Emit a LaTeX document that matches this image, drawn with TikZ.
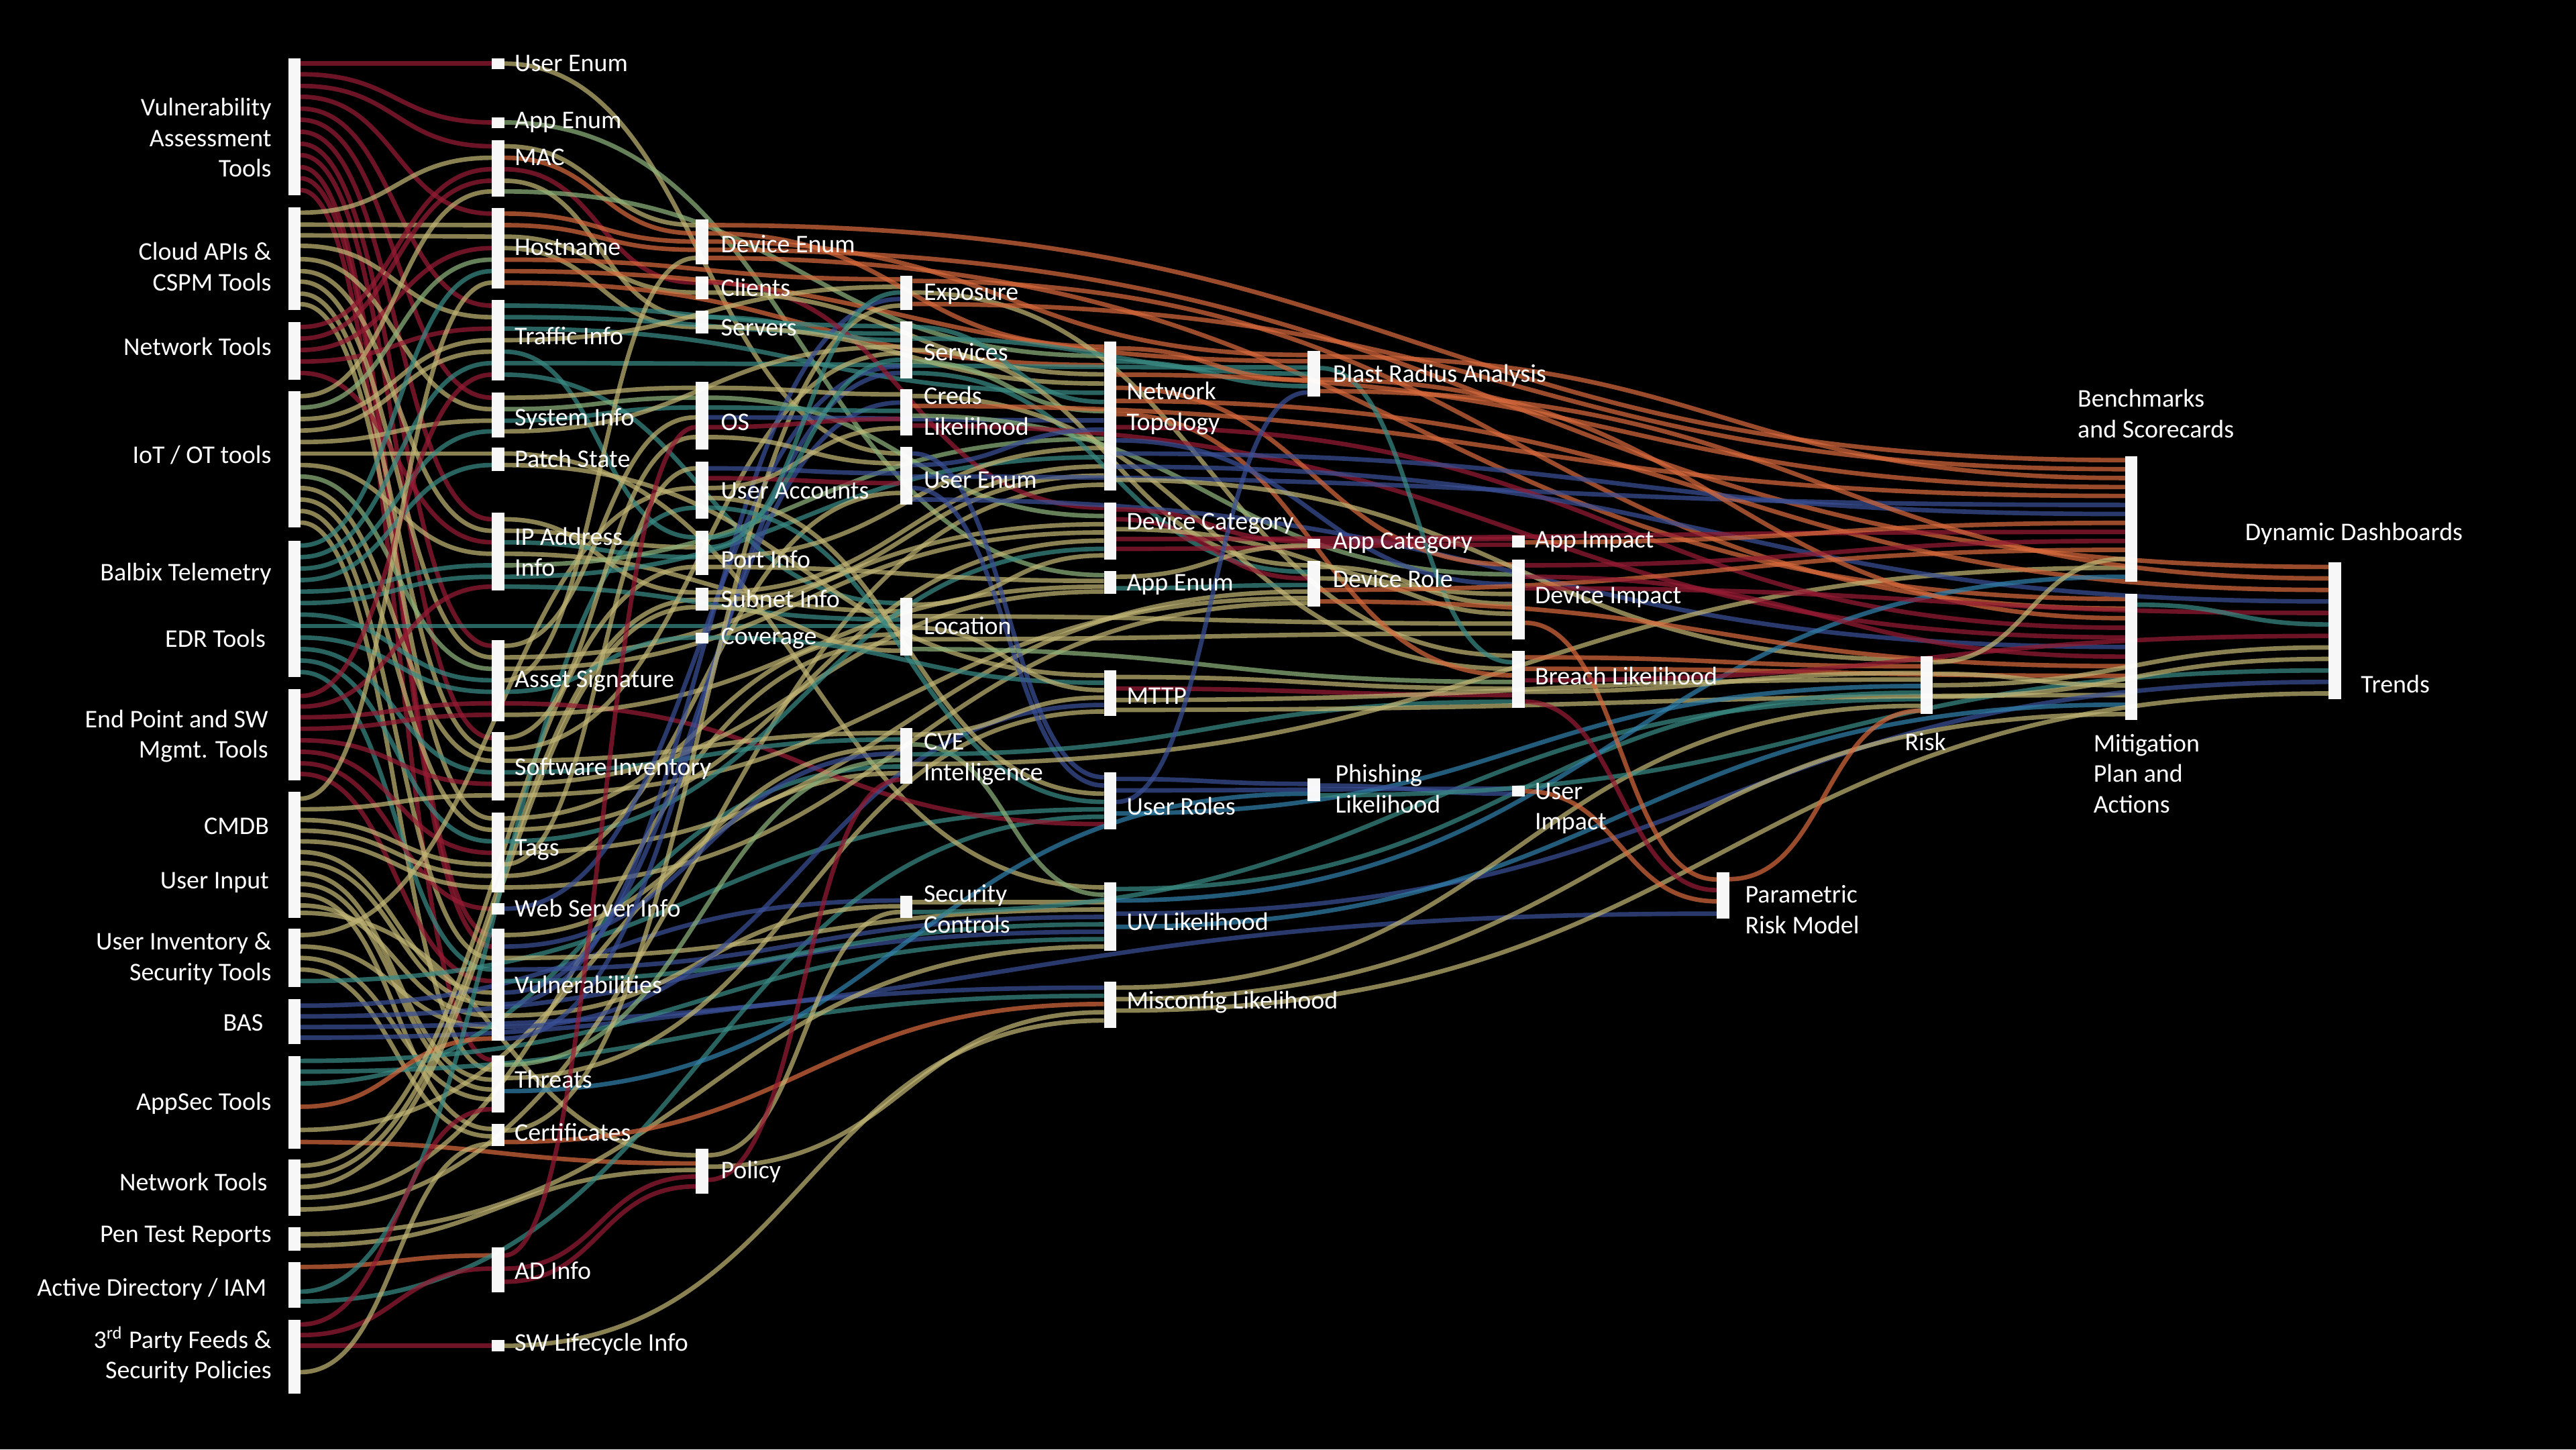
\documentclass[tikz,border=0pt]{standalone}
\usepackage{fontspec}
\setmainfont{Carlito}
\usetikzlibrary{calc}
\pgfdeclarelayer{lnks}
\pgfsetlayers{lnks,main}
\definecolor{cR}{RGB}{150,28,52}
\definecolor{cO}{RGB}{214,105,60}
\definecolor{cK}{RGB}{192,180,116}
\definecolor{cS}{RGB}{140,178,122}
\definecolor{cT}{RGB}{58,138,132}
\definecolor{cB}{RGB}{58,80,150}
\definecolor{cL}{RGB}{48,128,170}
\tikzset{
 barn/.style={fill=white,fill opacity=0.97,draw=none,inner sep=0pt,outer sep=0pt,minimum width=0.1837cm},
 lnk/.style={line width=1.9pt,opacity=0.72},
 lbl/.style={text=white,inner sep=0pt,font=\fontsize{10.8}{13}\selectfont},
 lblL/.style={lbl,anchor=west,align=left},
 lblR/.style={lbl,anchor=east,align=right},
}
\newcommand\bn[4]{\node[barn,minimum height={(#4-#3)*0.02449cm}] (#1) at ({#2+3.75},{(#3+#4)/2}) {};}
\newcommand\lk[5]{\draw[lnk,draw=#1] let \p1=(#2.east|-0,#3), \p2=(#4.west|-0,#5) in (\p1) .. controls ({(\x1+\x2)/2},\y1) and ({(\x1+\x2)/2},\y2) .. (\p2);}
\begin{document}
\begin{tikzpicture}[x=0.02449cm,y=-0.02449cm]
\useasboundingbox (0,0) rectangle (1568,882);
% ---------- bars
\bn{vat}{175.5}{35.5}{119}
\bn{cld}{175.5}{126}{188.5}
\bn{nt1}{175.5}{196}{231}
\bn{iot}{175.5}{238}{321}
\bn{bal}{175.5}{329}{412}
\bn{epm}{175.5}{419.5}{475}
\bn{cmdb}{175.5}{482}{558.5}
\bn{uinv}{175.5}{565}{600.5}
\bn{bas}{175.5}{608}{635.5}
\bn{aps}{175.5}{642.5}{699}
\bn{nt2}{175.5}{705.5}{740}
\bn{pen}{175.5}{747}{761}
\bn{adi}{175.5}{768}{796}
\bn{tpf}{175.5}{803}{848}
\bn{uen}{299.5}{35.5}{42}
\bn{aen}{299.5}{71.3}{77.8}
\bn{mac}{299.5}{85.2}{119.8}
\bn{hst}{299.5}{126.6}{175.6}
\bn{trf}{299.5}{182.7}{231.5}
\bn{sys}{299.5}{238.7}{266.2}
\bn{pst}{299.5}{272.5}{286.5}
\bn{ipa}{299.5}{312}{359.5}
\bn{asg}{299.5}{389.6}{438.8}
\bn{swi}{299.5}{445.5}{487}
\bn{tag}{299.5}{494.5}{543}
\bn{web}{299.5}{549.6}{556.6}
\bn{vul}{299.5}{565}{633.5}
\bn{thr}{299.5}{642.3}{677}
\bn{crt}{299.5}{684}{697.5}
\bn{adn}{299.5}{759}{786.5}
\bn{swl}{299.5}{815.5}{822.4}
\bn{den}{423.5}{133.5}{161}
\bn{cli}{423.5}{168.2}{182}
\bn{srv}{423.5}{189}{203}
\bn{os}{423.5}{232.4}{273.6}
\bn{uac}{423.5}{280.8}{315.6}
\bn{prt}{423.5}{323}{350}
\bn{sub}{423.5}{357.7}{371.5}
\bn{cov}{423.5}{385}{391.6}
\bn{pol}{423.5}{699}{726.5}
\bn{exp}{548}{167.7}{188.5}
\bn{svc}{548}{195.4}{230.2}
\bn{crd}{548}{237}{265.2}
\bn{ue4}{548}{272}{306.9}
\bn{loc}{548}{364}{399}
\bn{cve}{548}{443}{477}
\bn{sec}{548}{545}{558.5}
\bn{ntp}{672}{208}{298.5}
\bn{dca}{672}{306}{340.6}
\bn{ae5}{672}{347.5}{361.4}
\bn{mtp}{672}{408}{435.5}
\bn{uro}{672}{470}{504.7}
\bn{uvl}{672}{537}{578.6}
\bn{mis}{672}{597.4}{625.6}
\bn{bra}{796}{213.6}{241.4}
\bn{aca}{796}{327.7}{333.6}
\bn{dro}{796}{341.2}{369}
\bn{phi}{796}{473.5}{487.5}
\bn{aim}{920.5}{326}{333.3}
\bn{dim}{920.5}{340.4}{389}
\bn{brl}{920.5}{396.2}{430.6}
\bn{uim}{920.5}{478}{484.7}
\bn{prm}{1045}{531}{559.2}
\bn{rsk}{1169}{399.2}{434.3}
\bn{bmk}{1293.5}{277.5}{354.2}
\bn{mit}{1293.5}{361.2}{438}
\bn{dsh}{1417.5}{342}{425.6}
\begin{pgfonlayer}{lnks}
\fill[black] (0,0) rectangle (1568,882);
% ---------- links from sources
\lk{cR}{vat}{38.7}{uen}{38.7}
\lk{cR}{vat}{45.2}{aen}{74.5}
\lk{cR}{vat}{52.3}{mac}{89}
\lk{cR}{vat}{58.9}{hst}{130}
\lk{cR}{vat}{66.1}{trf}{186}
\lk{cR}{vat}{72.9}{sys}{242}
\lk{cR}{vat}{80.2}{ipa}{316}
\lk{cR}{vat}{87.5}{asg}{393}
\lk{cR}{vat}{94.4}{swi}{449}
\lk{cR}{vat}{101.7}{vul}{569}
\lk{cR}{vat}{108.5}{vul}{576}
\lk{cR}{vat}{115.7}{thr}{645}
\lk{cK}{cld}{129.4}{mac}{96}
\lk{cK}{cld}{136.7}{hst}{137}
\lk{cK}{cld}{143.2}{hst}{144}
\lk{cK}{cld}{149.6}{trf}{193}
\lk{cK}{cld}{157.7}{sys}{249}
\lk{cK}{cld}{165}{ipa}{323}
\lk{cK}{cld}{171.4}{asg}{400}
\lk{cK}{cld}{178.7}{swi}{456}
\lk{cK}{cld}{185.1}{tag}{498}
\lk{cR}{nt1}{199}{mac}{103}
\lk{cR}{nt1}{206}{mac}{110}
\lk{cR}{nt1}{213}{hst}{151}
\lk{cR}{nt1}{220}{trf}{200}
\lk{cR}{nt1}{227}{ipa}{330}
\lk{cK}{iot}{241}{mac}{116.5}
\lk{cS}{iot}{248}{hst}{158}
\lk{cK}{iot}{255}{trf}{207}
\lk{cK}{iot}{262}{trf}{214}
\lk{cK}{iot}{269}{sys}{256}
\lk{cK}{iot}{276}{pst}{276}
\lk{cK}{iot}{283}{ipa}{337}
\lk{cS}{iot}{290}{asg}{407}
\lk{cK}{iot}{297}{swi}{463}
\lk{cK}{iot}{304}{tag}{505}
\lk{cK}{iot}{311}{vul}{583}
\lk{cK}{iot}{318}{thr}{651}
\lk{cT}{bal}{332}{hst}{165}
\lk{cT}{bal}{339}{trf}{221}
\lk{cT}{bal}{346}{sys}{262.5}
\lk{cT}{bal}{353}{pst}{283}
\lk{cT}{bal}{360}{ipa}{344}
\lk{cT}{bal}{367}{ipa}{351}
\lk{cT}{bal}{374}{asg}{414}
\lk{cT}{bal}{381}{loc}{381}
\lk{cT}{bal}{388}{asg}{421}
\lk{cT}{bal}{395}{swi}{470}
\lk{cT}{bal}{402}{tag}{512}
\lk{cT}{bal}{409}{vul}{590}
\lk{cR}{epm}{423.5}{trf}{228}
\lk{cR}{epm}{430}{ipa}{357}
\lk{cR}{epm}{436.5}{asg}{428}
\lk{cR}{epm}{443.5}{asg}{435}
\lk{cR}{epm}{450.5}{swi}{477}
\lk{cR}{epm}{457.5}{tag}{519}
\lk{cR}{epm}{464.5}{web}{553}
\lk{cR}{epm}{471}{vul}{597}
\lk{cK}{cmdb}{486}{hst}{172}
\lk{cK}{cmdb}{492.5}{swi}{484}
\lk{cK}{cmdb}{499}{tag}{526}
\lk{cK}{cmdb}{505.5}{tag}{533}
\lk{cK}{cmdb}{512}{tag}{540}
\lk{cK}{cmdb}{518.5}{vul}{604}
\lk{cK}{cmdb}{525}{vul}{611}
\lk{cK}{cmdb}{531.5}{thr}{657}
\lk{cK}{cmdb}{538}{thr}{663}
\lk{cK}{cmdb}{544.5}{crt}{687}
\lk{cK}{cmdb}{551}{vul}{618}
\lk{cK}{cmdb}{555.5}{pol}{703}
\lk{cK}{uinv}{569}{uac}{297}
\lk{cK}{uinv}{576}{vul}{625}
\lk{cK}{uinv}{583}{thr}{669}
\lk{cK}{uinv}{590}{crt}{691.5}
\lk{cT}{uinv}{597}{uro}{492.5}
\lk{cB}{bas}{612}{sec}{548}
\lk{cB}{bas}{618.5}{uvl}{567}
\lk{cB}{bas}{625}{prm}{556}
\lk{cB}{bas}{631.5}{mis}{601}
\lk{cT}{aps}{645.6}{uvl}{571.5}
\lk{cT}{aps}{652.1}{mis}{606}
\lk{cT}{aps}{659.3}{cve}{466.5}
\lk{cO}{aps}{673.5}{vul}{632}
\lk{cK}{aps}{687.6}{cve}{470.5}
\lk{cO}{aps}{695}{pol}{708}
\lk{cK}{nt2}{709.3}{prt}{345}
\lk{cK}{nt2}{715.8}{sub}{365}
\lk{cK}{nt2}{722.3}{sub}{369.5}
\lk{cK}{nt2}{728.8}{loc}{391}
\lk{cK}{nt2}{736}{ntp}{295}
\lk{cK}{pen}{751}{uvl}{576}
\lk{cK}{pen}{758}{pol}{712}
\lk{cO}{adi}{771}{adn}{764}
\lk{cT}{adi}{786}{uac}{309}
\lk{cT}{adi}{792}{uro}{497}
\lk{cR}{tpf}{806}{thr}{675}
\lk{cR}{tpf}{812.5}{adn}{772}
\lk{cR}{tpf}{819}{swl}{819}
\lk{cK}{tpf}{835}{crt}{696}
% ---------- column 2
\lk{cK}{uen}{38.7}{ue4}{276}
\lk{cS}{aen}{74.5}{ae5}{350}
\lk{cK}{mac}{89}{den}{137}
\lk{cO}{mac}{96}{den}{142}
\lk{cR}{mac}{103}{cli}{172}
\lk{cK}{mac}{110}{srv}{193}
\lk{cS}{mac}{116.5}{ntp}{216.6}
\lk{cO}{hst}{130}{den}{147}
\lk{cO}{hst}{137}{den}{152}
\lk{cK}{hst}{144}{cli}{178}
\lk{cK}{hst}{151}{srv}{199}
\lk{cO}{hst}{158}{exp}{170}
\lk{cO}{hst}{165}{bra}{219.8}
\lk{cO}{hst}{172}{ntp}{222.2}
\lk{cT}{trf}{186}{svc}{198.5}
\lk{cT}{trf}{193}{svc}{203}
\lk{cT}{trf}{200}{ntp}{239}
\lk{cK}{trf}{207}{exp}{174.5}
\lk{cT}{trf}{214}{prt}{327}
\lk{cT}{trf}{221}{bra}{223.6}
\lk{cT}{trf}{228}{loc}{367}
\lk{cK}{sys}{242}{os}{236}
\lk{cS}{sys}{249}{os}{242}
\lk{cT}{sys}{256}{os}{248}
\lk{cK}{sys}{262.5}{svc}{211}
\lk{cK}{pst}{276}{uvl}{540}
\lk{cK}{pst}{283}{mtp}{411}
\lk{cK}{ipa}{316}{sub}{360.5}
\lk{cK}{ipa}{323}{prt}{333}
\lk{cT}{ipa}{330}{prt}{339}
\lk{cK}{ipa}{337}{loc}{372}
\lk{cS}{ipa}{344}{ntp}{267}
\lk{cT}{ipa}{351}{ntp}{278.2}
\lk{cT}{ipa}{357}{loc}{377}
\lk{cK}{asg}{393}{os}{254}
\lk{cK}{asg}{400}{dca}{319}
\lk{cK}{asg}{407}{dca}{324}
\lk{cK}{asg}{414}{den}{157}
\lk{cT}{asg}{421}{cov}{388}
\lk{cR}{asg}{428}{uro}{501.5}
\lk{cK}{asg}{435}{ae5}{357}
\lk{cK}{swi}{449}{os}{266}
\lk{cK}{swi}{456}{svc}{215}
\lk{cK}{swi}{463}{cve}{446}
\lk{cT}{swi}{470}{cve}{450}
\lk{cK}{swi}{477}{ae5}{360}
\lk{cK}{swi}{484}{dro}{364}
\lk{cK}{tag}{498}{loc}{386}
\lk{cK}{tag}{505}{dca}{329}
\lk{cT}{tag}{512}{dca}{334}
\lk{cK}{tag}{519}{dro}{360}
\lk{cK}{tag}{526}{uac}{285}
\lk{cK}{tag}{533}{ue4}{300}
\lk{cK}{tag}{540}{dro}{367}
\lk{cB}{web}{553}{svc}{223}
\lk{cK}{vul}{569}{cve}{454.5}
\lk{cB}{vul}{576}{cve}{458.5}
\lk{cK}{vul}{583}{uvl}{553.5}
\lk{cB}{vul}{590}{uvl}{558}
\lk{cT}{vul}{597}{uvl}{562.5}
\lk{cB}{vul}{604}{crd}{245}
\lk{cB}{vul}{611}{exp}{182}
\lk{cK}{vul}{618}{sec}{551.5}
\lk{cB}{vul}{625}{mtp}{429}
\lk{cB}{vul}{632}{svc}{227}
\lk{cS}{thr}{648}{cve}{462.5}
\lk{cK}{thr}{656}{mtp}{433}
\lk{cL}{thr}{664}{phi}{483}
\lk{cK}{crt}{688}{exp}{186}
\lk{cO}{crt}{695}{mis}{611}
\lk{cR}{adn}{764}{os}{260}
\lk{cR}{adn}{772}{pol}{716}
\lk{cR}{adn}{780}{pol}{722}
\lk{cK}{swl}{819}{mis}{621}
% ---------- column 3
\lk{cO}{den}{137}{bmk}{280}
\lk{cO}{den}{142}{ntp}{211}
\lk{cO}{den}{147}{bra}{216}
\lk{cO}{den}{152}{dsh}{345}
\lk{cO}{den}{157}{mit}{364.5}
\lk{cR}{cli}{172}{dca}{309}
\lk{cK}{cli}{178}{ntp}{227.8}
\lk{cT}{srv}{193}{svc}{207}
\lk{cK}{srv}{199}{ntp}{233.4}
\lk{cK}{os}{236}{crd}{240}
\lk{cS}{os}{242}{dca}{314}
\lk{cT}{os}{248}{crd}{250}
\lk{cB}{os}{254}{ntp}{255.8}
\lk{cR}{os}{260}{crd}{255}
\lk{cK}{os}{266}{ue4}{282}
\lk{cB}{uac}{285}{ue4}{288}
\lk{cR}{uac}{291}{ue4}{294}
\lk{cK}{uac}{297}{crd}{260.5}
\lk{cK}{uac}{303}{uro}{483}
\lk{cT}{uac}{309}{uro}{488}
\lk{cT}{prt}{327}{svc}{219}
\lk{cT}{prt}{333}{exp}{178}
\lk{cK}{prt}{339}{ntp}{272.6}
\lk{cK}{prt}{345}{ae5}{353.5}
\lk{cK}{sub}{360.5}{ntp}{283.8}
\lk{cK}{sub}{365}{ntp}{289.4}
\lk{cK}{sub}{369.5}{loc}{396}
\lk{cT}{cov}{388}{mtp}{415.5}
\lk{cK}{pol}{703}{sec}{555}
\lk{cK}{pol}{710}{mis}{616}
\lk{cR}{pol}{718}{cve}{474.5}
% ---------- column 4
\lk{cO}{exp}{171}{mit}{370.3}
\lk{cK}{exp}{178}{brl}{399}
\lk{cO}{exp}{185}{bmk}{285.5}
\lk{cT}{svc}{199}{ntp}{244.6}
\lk{cT}{svc}{206}{bra}{227.4}
\lk{cK}{svc}{213}{dro}{344}
\lk{cS}{svc}{220}{ntp}{250.2}
\lk{cT}{svc}{227}{dro}{348}
\lk{cK}{crd}{241}{brl}{407}
\lk{cO}{crd}{247}{bmk}{301.8}
\lk{cS}{crd}{253}{dim}{349.5}
\lk{cR}{crd}{259}{mit}{387.9}
\lk{cB}{ue4}{276}{uro}{473}
\lk{cB}{ue4}{283}{ntp}{261.4}
\lk{cB}{ue4}{290}{bmk}{307.3}
\lk{cB}{ue4}{297}{uro}{478}
\lk{cB}{ue4}{304}{mit}{393.7}
\lk{cK}{loc}{368}{dca}{338}
\lk{cK}{loc}{375}{dim}{379.5}
\lk{cK}{loc}{382}{mtp}{420}
\lk{cK}{loc}{389}{dim}{385.5}
\lk{cS}{loc}{395}{brl}{415}
\lk{cK}{cve}{447}{mtp}{424.5}
\lk{cS}{cve}{453}{uvl}{544.5}
\lk{cT}{cve}{459}{brl}{427}
\lk{cK}{cve}{465}{bmk}{345.5}
\lk{cK}{sec}{549}{uvl}{549}
\lk{cT}{sec}{555}{rsk}{425.5}
% ---------- column 5
\lk{cO}{ntp}{212}{bra}{231.2}
\lk{cT}{ntp}{220}{bra}{235}
\lk{cO}{ntp}{228}{bmk}{296.4}
\lk{cO}{ntp}{236}{dim}{343.5}
\lk{cO}{ntp}{244}{dsh}{359}
\lk{cO}{ntp}{252}{brl}{411}
\lk{cR}{ntp}{260}{mit}{382}
\lk{cB}{ntp}{268}{dim}{355.5}
\lk{cB}{ntp}{276}{bmk}{312.8}
\lk{cB}{ntp}{284}{dsh}{366}
\lk{cK}{ntp}{292}{rsk}{401.5}
\lk{cR}{dca}{310}{aca}{329.5}
\lk{cR}{dca}{316}{dro}{352}
\lk{cK}{dca}{322}{dim}{361.5}
\lk{cR}{dca}{328}{bmk}{323.7}
\lk{cR}{dca}{334}{aim}{331.5}
\lk{cK}{ae5}{351}{aca}{332}
\lk{cT}{ae5}{358}{dro}{356}
\lk{cK}{mtp}{412}{brl}{419}
\lk{cR}{mtp}{419}{brl}{423}
\lk{cK}{mtp}{426}{rsk}{413.5}
\lk{cK}{mtp}{432}{mit}{423}
\lk{cB}{uro}{474}{phi}{477}
\lk{cB}{uro}{481}{uim}{480}
\lk{cB}{uro}{488}{bra}{238.8}
\lk{cL}{uro}{495}{rsk}{417.5}
\lk{cT}{uvl}{541}{rsk}{421.5}
\lk{cL}{uvl}{548}{bmk}{351}
\lk{cB}{uvl}{556}{dsh}{415}
\lk{cL}{uvl}{564}{mit}{428.8}
\lk{cK}{mis}{601}{rsk}{429.5}
\lk{cK}{mis}{608}{mit}{434.6}
\lk{cK}{mis}{615}{dsh}{422}
% ---------- column 6
\lk{cO}{bra}{217}{bmk}{290.9}
\lk{cT}{bra}{224}{brl}{403}
\lk{cO}{bra}{231}{mit}{376.2}
\lk{cO}{bra}{238}{dsh}{352}
\lk{cR}{aca}{330.5}{aim}{328}
\lk{cK}{dro}{345}{dim}{367.5}
\lk{cK}{dro}{352}{dim}{373.5}
\lk{cO}{dro}{359}{bmk}{334.6}
\lk{cO}{dro}{366}{mit}{405.4}
\lk{cB}{phi}{478}{uim}{483}
\lk{cT}{phi}{484}{dsh}{408}
% ---------- column 7 and beyond
\lk{cO}{aim}{330}{bmk}{318.2}
\lk{cR}{dim}{344}{bmk}{329.2}
\lk{cR}{dim}{351}{mit}{399.6}
\lk{cR}{dim}{358}{dsh}{373}
\lk{cO}{dim}{379}{prm}{535.2}
\lk{cO}{brl}{400}{rsk}{405.5}
\lk{cO}{brl}{407}{mit}{411.3}
\lk{cR}{brl}{414}{dsh}{387}
\lk{cK}{brl}{421}{rsk}{409.5}
\lk{cR}{brl}{427}{prm}{541.7}
\lk{cO}{uim}{481.5}{prm}{548.5}
\lk{cO}{prm}{535}{rsk}{432.5}
\lk{cK}{rsk}{403}{bmk}{340.1}
\lk{cK}{rsk}{410}{mit}{417.1}
\lk{cK}{rsk}{417}{dsh}{394}
\lk{cK}{rsk}{424}{dsh}{401}
\lk{cT}{mit}{368}{dsh}{380}
\end{pgfonlayer}
% ---------- labels
\node[lblR] (vatL) at (165.5,83.8) {Vulnerability\\Assessment\\Tools};
\node[lblR] (cldL) at (165.5,162.4) {Cloud APIs \&\\CSPM Tools};
\node[lblR] (nt1L) at (165.5,211) {Network Tools};
\node[lblR] (iotL) at (165.5,277) {IoT / OT tools};
\node[lblR] (balL) at (165.5,349.1) {Balbix Telemetry};
\node[lblR] (edrL) at (162,388.7) {EDR Tools};
\node[lblR] (epmL) at (163.5,448) {End Point and SW\\Mgmt. Tools};
\node[lblR] (cmdbL) at (164,502.6) {CMDB};
\node[lblR] (uinL) at (164,537.3) {User Input};
\node[lblR] (uinvL) at (165.5,583.3) {User Inventory \&\\Security Tools};
\node[lblR] (basL) at (160.5,622.5) {BAS};
\node[lblR] (apsL) at (165.5,671.4) {AppSec Tools};
\node[lblR] (nt2L) at (163,719.4) {Network Tools};
\node[lblR] (penL) at (165.5,752.1) {Pen Test Reports};
\node[lblR] (adiL) at (162.5,784.4) {Active Directory / IAM};
\node[lblR] (tpfL) at (165.5,824.3) {3\textsuperscript{rd} Party Feeds \&\\Security Policies};
\node[lblL] (uenL) at (313,38.5) {User Enum};
\node[lblL] (aenL) at (313,74.3) {App Enum};
\node[lblL] (macL) at (313,95.6) {MAC};
\node[lblL] (hstL) at (313,150.5) {Hostname};
\node[lblL] (trfL) at (313,204.5) {Traffic Info};
\node[lblL] (sysL) at (313,255) {System Info};
\node[lblL] (pstL) at (313,279) {Patch State};
\node[lblL] (ipaL) at (313,335.8) {IP Address\\Info};
\node[lblL] (asgL) at (313,414.5) {Asset Signature};
\node[lblL] (swiL) at (313,467.8) {Software Inventory};
\node[lblL] (tagL) at (313,517) {Tags};
\node[lblL] (webL) at (313,552.5) {Web Server Info};
\node[lblL] (vulL) at (313,599) {Vulnerabilities};
\node[lblL] (thrL) at (313,656.9) {Threats};
\node[lblL] (crtL) at (313,688.9) {Certificates};
\node[lblL] (adnL) at (313,773.4) {AD Info};
\node[lblL] (swlL) at (313,817.9) {SW Lifecycle Info};
\node[lblL] (denL) at (438.5,148.6) {Device Enum};
\node[lblL] (cliL) at (438.5,175) {Clients};
\node[lblL] (srvL) at (438.5,199.2) {Servers};
\node[lblL] (osL) at (438.5,256.8) {OS};
\node[lblL] (uacL) at (438.5,298.5) {User Accounts};
\node[lblL] (prtL) at (438.5,340.2) {Port Info};
\node[lblL] (subL) at (438.5,364.6) {Subnet Info};
\node[lblL] (covL) at (438.5,388.5) {Coverage};
\node[lblL] (polL) at (438.5,713) {Policy};
\node[lblL] (expL) at (562,179.2) {Exposure};
\node[lblL] (svcL) at (562,214.2) {Services};
\node[lblL] (crdL) at (562,250.1) {Creds\\Likelihood};
\node[lblL] (ue4L) at (562,292.3) {User Enum};
\node[lblL] (locL) at (562,380.8) {Location};
\node[lblL] (cveL) at (562,461.9) {CVE\\Intelligence};
\node[lblL] (secL) at (562,553.2) {Security\\Controls};
\node[lblL] (ntpL) at (685.5,248.4) {Network\\Topology};
\node[lblL] (dcaL) at (685.5,318.3) {Device Category};
\node[lblL] (ae5L) at (685.5,355.8) {App Enum};
\node[lblL] (mtpL) at (685.5,423.5) {MTTP};
\node[lblL] (uroL) at (685.5,490.6) {User Roles};
\node[lblL] (uvlL) at (685.5,561) {UV Likelihood};
\node[lblL] (misL) at (685.5,610) {Misconfig Likelihood};
\node[lblL] (braL) at (811,228.5) {Blast Radius Analysis};
\node[lblL] (acaL) at (811,330.6) {App Category};
\node[lblL] (droL) at (811,352) {Device Role};
\node[lblL] (phiL) at (812.5,479.9) {Phishing\\Likelihood};
\node[lblL] (aimL) at (934,329.5) {App Impact};
\node[lblL] (dimL) at (934,363.3) {Device Impact};
\node[lblL] (brlL) at (934,411.2) {Breach Likelihood};
\node[lblL] (uimL) at (934,492) {User\\Impact};
\node[lblL] (prmL) at (1062,553.6) {Parametric\\Risk Model};
\node[lbl] (rskL) at (1172,451.5) {Risk};
\node[lblL] (bmkL) at (1264.4,251.7) {Benchmarks\\and Scorecards};
\node[lblL] (mitL) at (1274,470.8) {Mitigation\\Plan and\\Actions};
\node[lblL] (dshL) at (1366.3,324.9) {Dynamic Dashboards};
\node[lblL] (trdL) at (1436.8,416.3) {Trends};
\end{tikzpicture}
\end{document}
